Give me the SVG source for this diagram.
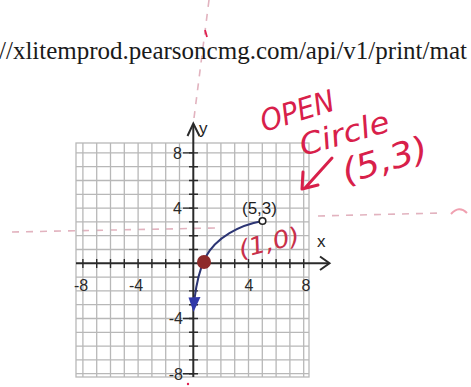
<svg xmlns="http://www.w3.org/2000/svg" width="471" height="387" viewBox="0 0 471 387">
<style>
.url{font-family:"Liberation Serif","Times New Roman",serif;font-size:25px;fill:#1a1a1a}
.tick{font-family:"Liberation Sans",Arial,sans-serif;font-size:16px;fill:#2a2a2a}
.lbl{font-family:"Liberation Sans",Arial,sans-serif;font-size:17px;fill:#1e1e1e}
.hand{font-family:"DejaVu Sans","Liberation Sans",sans-serif;font-style:italic;font-weight:normal;fill:#d8204a}
.grid{stroke:#b8b8b8;stroke-width:1.3;fill:none}
.axis{stroke:#2a2a2a;stroke-width:2;fill:none}
.tk{stroke:#2a2a2a;stroke-width:1.4}
.scan{fill:none;stroke:#e2b3bf;stroke-width:1.6;stroke-dasharray:7 7}
</style>
<rect width="471" height="387" fill="#ffffff"/>

<g id="scan-marks">
<path class="scan" d="M209,0 L194,118"/>
<path d="M205,30 L207,37" stroke="#e02050" stroke-width="1.8"/>
<path class="scan" d="M12,232 L215,228"/>
<path class="scan" d="M318,216 L442,213" stroke="#cfcfcf"/>
<path d="M451,214 Q459,205 467,213" fill="none" stroke="#f0a0b0" stroke-width="2"/>
<circle cx="188" cy="384" r="1.2" fill="#e02050"/>
</g>

<g id="url-header">
<text class="url" x="-1" y="59">//xlitemprod.pearsoncmg.com/api/v1/print/mat</text>
</g>

<g id="grid">
<rect class="grid" x="76" y="143" width="233" height="234"/>
<path class="grid" d="M82.9,143V377M96.7,143V377M110.5,143V377M124.3,143V377M138.1,143V377M151.9,143V377M165.7,143V377M179.5,143V377M207.1,143V377M220.9,143V377M234.7,143V377M248.5,143V377M262.3,143V377M276.1,143V377M289.9,143V377M303.7,143V377"/>
<path class="grid" d="M76,152.9H309M76,166.7H309M76,180.5H309M76,194.3H309M76,208.1H309M76,221.9H309M76,235.7H309M76,249.5H309M76,277.1H309M76,290.9H309M76,304.7H309M76,318.5H309M76,332.3H309M76,346.1H309M76,359.9H309M76,373.7H309"/>
</g>

<g id="axes">
<path class="axis" d="M76,263.3H328"/>
<path class="axis" d="M320,256.5L329.5,263.3L320,270"/>
<path class="axis" d="M193.3,377V124"/>
<path class="axis" d="M187.5,136L193.3,123.5L199.5,136"/>
<path class="tk" d="M82.9,259V268M96.7,259V268M110.5,259V268M124.3,259V268M138.1,259V268M151.9,259V268M165.7,259V268M179.5,259V268M207.1,259V268M220.9,259V268M234.7,259V268M248.5,259V268M262.3,259V268M276.1,259V268M289.9,259V268M303.7,259V268"/>
<path class="tk" d="M189,152.9H198M189,166.7H198M189,180.5H198M189,194.3H198M189,208.1H198M189,221.9H198M189,235.7H198M189,249.5H198M189,277.1H198M189,290.9H198M189,304.7H198M189,318.5H198M189,332.3H198M189,346.1H198M189,359.9H198M189,373.7H198"/>
<path class="tk" d="M183,152.9H193M183,208.1H193M183,318.5H193M183,373.7H193"/>
<text class="tick" x="182" y="159" text-anchor="end">8</text>
<text class="tick" x="182" y="214" text-anchor="end">4</text>
<text class="tick" x="183" y="324" text-anchor="end">-4</text>
<text class="tick" x="183" y="380" text-anchor="end">-8</text>
<text class="tick" x="81" y="291" text-anchor="middle">-8</text>
<text class="tick" x="136" y="291" text-anchor="middle">-4</text>
<text class="tick" x="249" y="291" text-anchor="middle">4</text>
<text class="tick" x="306" y="291" text-anchor="middle">8</text>
<text class="lbl" x="199" y="134" font-size="16">y</text>
<text class="lbl" x="317" y="247">x</text>
</g>

<g id="curve">
<path d="M262.5,221 C240,225 216,237 205,258 C199,271 196,287 194.5,299" fill="none" stroke="#2c3574" stroke-width="2"/>
<path d="M188.5,297.5 L200.5,297 L193.5,312 Z" fill="#3038a8"/>
</g>

<g id="point-5-3">
<circle cx="262.5" cy="221" r="3.3" fill="#ffffff" stroke="#222222" stroke-width="1.6"/>
<text class="lbl" x="242" y="214" font-size="17">(5,3)</text>
</g>

<g id="point-1-0">
<circle cx="204" cy="262" r="7" fill="#8e2a2a"/>
</g>

<g id="note-open-circle">
<text class="hand" transform="translate(264,132) rotate(-17)" font-size="30" textLength="76" lengthAdjust="spacingAndGlyphs">OPEN</text>
<text class="hand" transform="translate(303,156) rotate(-16)" font-size="30" textLength="92" lengthAdjust="spacingAndGlyphs">Circle</text>
<text class="hand" transform="translate(346,184) rotate(-17)" font-size="34" textLength="88" lengthAdjust="spacingAndGlyphs">(5,3)</text>
<path d="M332,158 L305,188 M303,172 L302,189 L318,185" fill="none" stroke="#d8204a" stroke-width="3" stroke-linecap="round" stroke-linejoin="round"/>
</g>

<g id="note-1-0">
<text class="hand" transform="translate(241,258) rotate(-14)" font-size="24" textLength="62" lengthAdjust="spacingAndGlyphs" style="fill:#c8304a">(1,0)</text>
</g>
</svg>
